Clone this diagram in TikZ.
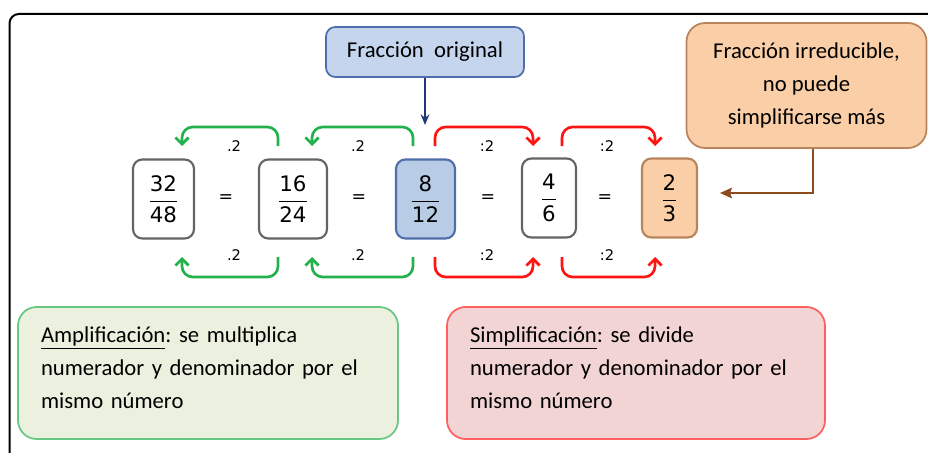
\documentclass[tikz,border=0pt]{standalone}
\usepackage{fontspec}
\setmainfont{Carlito}
\newfontfamily\numfont{DejaVu Sans}
\usetikzlibrary{arrows.meta}
\frenchspacing
\definecolor{bluefill}{RGB}{197,213,237}
\definecolor{bluefillb}{RGB}{184,204,230}
\definecolor{blueborder}{RGB}{79,110,170}
\definecolor{bluearrow}{RGB}{31,56,120}
\definecolor{orfill}{RGB}{250,206,166}
\definecolor{orborder}{RGB}{185,132,92}
\definecolor{orarrow}{RGB}{140,74,30}
\definecolor{grfill}{RGB}{235,241,222}
\definecolor{grborder}{RGB}{102,200,130}
\definecolor{rdfill}{RGB}{242,212,212}
\definecolor{rdborder}{RGB}{255,95,95}
\definecolor{arrgreen}{RGB}{34,177,76}
\definecolor{arrred}{RGB}{255,20,20}
\definecolor{grayb}{RGB}{100,100,100}
\newcommand{\fr}[2]{$\displaystyle\frac{\mbox{#1}}{\mbox{#2}}$}
\begin{document}
\begin{tikzpicture}[x=0.75pt,y=-0.75pt,
  fracbox/.style={draw=grayb, line width=1.6pt, fill=white, rounded corners=7pt,
    minimum height=59.25pt, inner sep=0pt, font=\numfont\fontsize{16}{19}\selectfont},
  eqsign/.style={font=\numfont\fontsize{13}{15}\selectfont},
  oplab/.style={font=\numfont\fontsize{11}{13}\selectfont},
  txt/.style={font=\fontsize{17}{24.75}\selectfont},
  garr/.style={draw=arrgreen, line width=2pt, rounded corners=8pt, -{Straight Barb[length=5pt,width=10pt]}},
  rarr/.style={draw=arrred, line width=2pt, rounded corners=8pt, -{Straight Barb[length=5pt,width=10pt]}}
]
\useasboundingbox (0,0) rectangle (928,453);
% outer frame
\draw[line width=1.5pt, rounded corners=7pt] (9.5,455) -- (9.5,14) -- (930,14);

% top boxes
\node[draw=blueborder, line width=1.3pt, fill=bluefill, rounded corners=7pt,
  minimum width=148.5pt, minimum height=37.5pt, inner sep=0pt, txt] (orig) at (425,52) {Fracción\ \ original};
\node[draw=orborder, line width=1.3pt, fill=orfill, rounded corners=14pt,
  minimum width=180pt, minimum height=93.75pt, inner sep=0pt, align=center, txt] (irr) at (806.5,85.5)
  {Fracción irreducible,\\no puede\\simplificarse más};

% fraction boxes
\node[fracbox, minimum width=45.75pt] (f1) at (163.5,199) {\fr{32}{48}};
\node[fracbox, minimum width=51pt] (f2) at (293,199) {\fr{16}{24}};
\node[fracbox, minimum width=44.25pt, draw=blueborder, fill=bluefillb] (f3) at (425.5,199) {\fr{8}{12}};
\node[fracbox, minimum width=40.5pt] (f4) at (549,198) {\fr{4}{6}};
\node[fracbox, minimum width=41.25pt, draw=orborder, fill=orfill] (f5) at (669.5,198) {\fr{2}{3}};

\node[eqsign] (e1) at (226,199) {=};
\node[eqsign] (e2) at (359,199) {=};
\node[eqsign] (e3) at (488,199) {=};
\node[eqsign] (e4) at (605,199) {=};

% labels
\node[oplab] (l1) at (234,146) {.2};
\node[oplab] (l2) at (358,146) {.2};
\node[oplab] (l3) at (487,146) {:2};
\node[oplab] (l4) at (607,146) {:2};
\node[oplab] (l5) at (234,255) {.2};
\node[oplab] (l6) at (358,255) {.2};
\node[oplab] (l7) at (487,255) {:2};
\node[oplab] (l8) at (607,255) {:2};

% arrow end coordinates
\coordinate (ga1) at (278,146); \coordinate (gb1) at (182,146);
\coordinate (ga2) at (413,146); \coordinate (gb2) at (312,146);
\coordinate (ra1) at (435,146); \coordinate (rb1) at (533,146);
\coordinate (ra2) at (562,146); \coordinate (rb2) at (655,146);
\coordinate (gc1) at (278,257); \coordinate (gd1) at (182,257);
\coordinate (gc2) at (413,257); \coordinate (gd2) at (312,257);
\coordinate (rc1) at (435,257); \coordinate (rd1) at (533,257);
\coordinate (rc2) at (562,257); \coordinate (rd2) at (655,257);

\draw[garr] (ga1) -- (278,127) -- (182,127) -- (gb1);
\draw[garr] (ga2) -- (413,127) -- (312,127) -- (gb2);
\draw[rarr] (ra1) -- (435,127) -- (533,127) -- (rb1);
\draw[rarr] (ra2) -- (562,127) -- (655,127) -- (rb2);
\draw[garr] (gc1) -- (278,277) -- (182,277) -- (gd1);
\draw[garr] (gc2) -- (413,277) -- (312,277) -- (gd2);
\draw[rarr] (rc1) -- (435,277) -- (533,277) -- (rd1);
\draw[rarr] (rc2) -- (562,277) -- (655,277) -- (rd2);

% pointer arrows
\coordinate (bt) at (425,125);
\draw[bluearrow, line width=1.2pt, -{Stealth[length=8pt,width=6.5pt]}] (orig.south) -- (bt);
\coordinate (ot) at (720,193);
\draw[orarrow, line width=1.2pt, -{Stealth[length=9pt,width=8pt,inset=1.5pt]}] ([xshift=4.9pt]irr.south) |- (ot);

% bottom boxes
\node[draw=grborder, line width=1.3pt, fill=grfill, rounded corners=14pt,
  minimum height=99pt, text width=250.5pt, inner xsep=17.25pt, inner ysep=0pt, align=left, txt] (amp) at (208,373)
  {\underline{Amplificación}: se multiplica\\numerador y denominador por el\\mismo número\\[-17pt]\mbox{}};
\node[draw=rdborder, line width=1.3pt, fill=rdfill, rounded corners=14pt,
  minimum height=99pt, text width=249pt, inner xsep=17.25pt, inner ysep=0pt, align=left, txt] (sim) at (636,373)
  {\underline{Simplificación}: se divide\\numerador y denominador por el\\mismo número\\[-17pt]\mbox{}};
\end{tikzpicture}
\end{document}
